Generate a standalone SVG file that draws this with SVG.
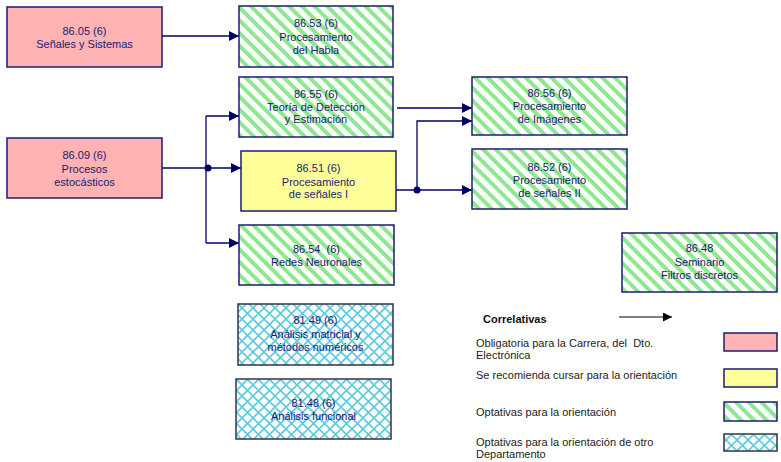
<svg xmlns="http://www.w3.org/2000/svg" width="781" height="462" viewBox="0 0 781 462">
<defs>
<pattern id="stripes" patternUnits="userSpaceOnUse" width="9" height="9" patternTransform="rotate(-45)">
<rect width="9" height="9" fill="#ffffff"/>
<rect width="4" height="9" fill="#8fe890"/>
</pattern>
<pattern id="cross" patternUnits="userSpaceOnUse" width="11" height="11">
<rect width="11" height="11" fill="#ffffff"/>
<path d="M0,0 L11,11 M11,0 L0,11" stroke="#5ccbe0" stroke-width="1.6"/>
</pattern>
<marker id="arr" viewBox="0 0 10 10" refX="10" refY="5" markerWidth="10" markerHeight="10" markerUnits="userSpaceOnUse" orient="auto">
<path d="M0,0 L10,5 L0,10 z" fill="#000066"/>
</marker>
<marker id="arrk" viewBox="0 0 10 10" refX="10" refY="5" markerWidth="9" markerHeight="9" markerUnits="userSpaceOnUse" orient="auto">
<path d="M0,0 L10,5 L0,10 z" fill="#000000"/>
</marker>
</defs>
<style>
.box{stroke:#1c1c70;stroke-width:1.5}
.pink{fill:#ffb3b3}
.yellow{fill:#ffff99}
.green{fill:url(#stripes)}
.blue{fill:url(#cross);stroke:#333344}
.t{font-family:"Liberation Sans",Arial,sans-serif;font-size:11px;fill:#1a1a70;text-anchor:middle}
.lg{font-family:"Liberation Sans",Arial,sans-serif;font-size:11px;fill:#222222}
.c{fill:none;stroke:#000066;stroke-width:1.3}
</style>
<rect width="781" height="462" fill="#ffffff"/>

<g id="connectors">
<path class="c" d="M162,36 H239" marker-end="url(#arr)"/>
<path class="c" d="M162,168 H206"/>
<path class="c" d="M206,116 V243"/>
<path class="c" d="M206,116 H239" marker-end="url(#arr)"/>
<path class="c" d="M206,168 H241" marker-end="url(#arr)"/>
<path class="c" d="M206,243 H239" marker-end="url(#arr)"/>
<circle cx="208" cy="168" r="3.5" fill="#000066"/>
<path class="c" d="M397,108 H472" marker-end="url(#arr)"/>
<path class="c" d="M396,190 H472" marker-end="url(#arr)"/>
<path class="c" d="M417,190 V121 H472" marker-end="url(#arr)"/>
<circle cx="417" cy="190" r="3.5" fill="#000066"/>
</g>

<g id="n8605">
<rect class="box pink" x="7" y="7" width="155" height="60"/>
<text class="t" x="84.5" y="35">86.05 (6)</text>
<text class="t" x="84.5" y="48">Señales y Sistemas</text>
</g>
<g id="n8609">
<rect class="box pink" x="7" y="138" width="155" height="60"/>
<text class="t" x="84.5" y="159">86.09 (6)</text>
<text class="t" x="84.5" y="173">Procesos</text>
<text class="t" x="84.5" y="186">estocásticos</text>
</g>
<g id="n8653">
<rect class="box green" x="239" y="6" width="154" height="61"/>
<text class="t" x="316" y="27">86.53 (6)</text>
<text class="t" x="316" y="41">Procesamiento</text>
<text class="t" x="316" y="54">del Habla</text>
</g>
<g id="n8655">
<rect class="box green" x="239" y="77" width="154" height="60"/>
<text class="t" x="316" y="98">86.55 (6)</text>
<text class="t" x="316" y="111">Teoría de Detección</text>
<text class="t" x="316" y="123">y Estimación</text>
</g>
<g id="n8651">
<rect class="box yellow" x="241" y="151" width="155" height="60"/>
<text class="t" x="318.5" y="172">86.51 (6)</text>
<text class="t" x="318.5" y="186">Procesamiento</text>
<text class="t" x="318.5" y="198">de señales I</text>
</g>
<g id="n8654">
<rect class="box green" x="239" y="225" width="155" height="60"/>
<text class="t" x="316.5" y="253" xml:space="preserve">86.54  (6)</text>
<text class="t" x="316.5" y="266">Redes Neuronales</text>
</g>
<g id="n8149">
<rect class="box blue" x="238" y="304" width="155" height="61"/>
<text class="t" x="315.5" y="324">81.49 (6)</text>
<text class="t" x="315.5" y="338">Análisis matricial y</text>
<text class="t" x="315.5" y="351">métodos numéricos</text>
</g>
<g id="n8148">
<rect class="box blue" x="236" y="379" width="155" height="60"/>
<text class="t" x="313.5" y="407">81.48 (6)</text>
<text class="t" x="313.5" y="420">Análisis funcional</text>
</g>
<g id="n8656">
<rect class="box green" x="472" y="77" width="155" height="58"/>
<text class="t" x="549.5" y="97">86.56 (6)</text>
<text class="t" x="549.5" y="110">Procesamiento</text>
<text class="t" x="549.5" y="123">de Imágenes</text>
</g>
<g id="n8652">
<rect class="box green" x="472" y="149" width="155" height="60"/>
<text class="t" x="549.5" y="171">86.52 (6)</text>
<text class="t" x="549.5" y="184">Procesamiento</text>
<text class="t" x="549.5" y="197">de señales II</text>
</g>
<g id="n8648">
<rect class="box green" x="622" y="233" width="155" height="59"/>
<text class="t" x="699.5" y="252">86.48</text>
<text class="t" x="699.5" y="266">Seminario</text>
<text class="t" x="699.5" y="279">Filtros discretos</text>
</g>

<g id="legend">
<text class="lg" x="483" y="323" font-weight="bold" style="fill:#111111">Correlativas</text>
<path d="M619,317 H672" stroke="#000000" stroke-width="1.2" fill="none" marker-end="url(#arrk)"/>
<text class="lg" x="476" y="347" xml:space="preserve">Obligatoria para la Carrera, del  Dto.</text>
<text class="lg" x="476" y="359">Electrónica</text>
<text class="lg" x="476" y="379">Se recomienda cursar para la orientación</text>
<text class="lg" x="476" y="416">Optativas para la orientación</text>
<text class="lg" x="476" y="446">Optativas para la orientación de otro</text>
<text class="lg" x="476" y="458">Departamento</text>
<rect class="box pink" x="724" y="333" width="53" height="18"/>
<rect class="box yellow" x="724" y="369" width="53" height="18"/>
<rect class="box green" x="724" y="402" width="53" height="19"/>
<rect class="box blue" x="724" y="434" width="53" height="17"/>
</g>
</svg>
